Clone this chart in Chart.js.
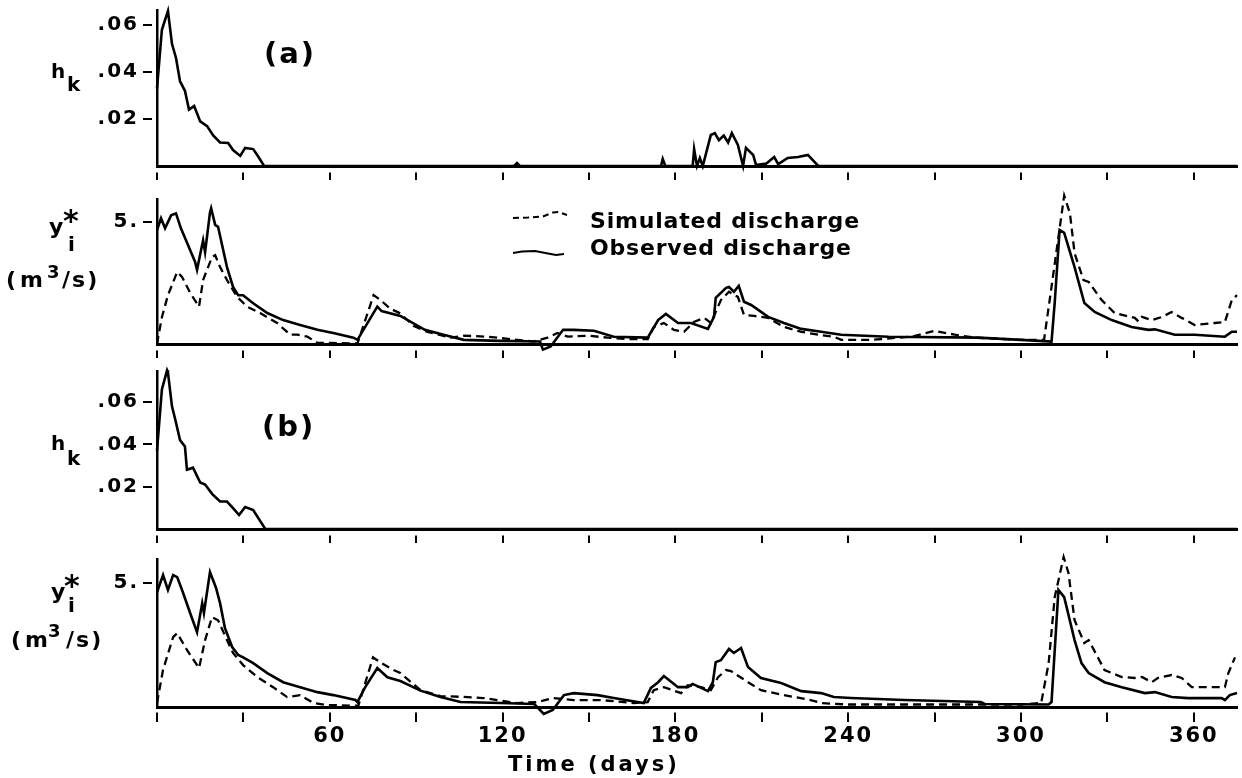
<!DOCTYPE html>
<html>
<head>
<meta charset="utf-8">
<title>h_k and discharge</title>
<script src="https://cdn.jsdelivr.net/npm/chart.js@4.4.1/dist/chart.umd.min.js"></script>
<style>
  body { margin: 0; background: #fff; }
  #wrap { position: relative; width: 1242px; height: 778px; }
  canvas { position: absolute; left: 0; top: 0; }
</style>
</head>
<body>
<div id="wrap">
  <canvas id="pa1" width="1242" height="778"></canvas>
  <canvas id="pa2" width="1242" height="778"></canvas>
  <canvas id="pb1" width="1242" height="778"></canvas>
  <canvas id="pb2" width="1242" height="778"></canvas>
</div>
<script>
// x axis (days)
const dayTicks = [0, 30, 60, 90, 120, 150, 180, 210, 240, 270, 300, 330, 360];
const dayLabels = [60, 120, 180, 240, 300, 360];
const hTicks = [0.02, 0.04, 0.06];
const qTicks = [5];

// (a) h_k
const haDays = [0, 1.7, 3.8, 5.2, 6.6, 8, 9.7, 11.1, 12.9, 15, 17.4, 19.5, 21.9, 24.7, 26.4, 28.9, 30.6, 33.4, 34.8, 37.2,
  124, 125, 126, 175, 175.6, 176.5, 186, 186.5, 187.5, 188.5, 189.5, 192.3, 193.7, 195.1, 196.8, 198.3, 199.6, 201.7, 203.5, 204.5,
  207, 208, 211.5, 214.3, 215.7, 219, 222.6, 226, 229.6, 375];
const haVals = [0.033, 0.058, 0.066, 0.052, 0.046, 0.036, 0.032, 0.024, 0.0255, 0.019, 0.017, 0.013, 0.010, 0.0098, 0.0068, 0.0043, 0.0077, 0.0072, 0.0047, 0,
  0, 0.0012, 0, 0, 0.003, 0, 0, 0.0072, 0, 0.0034, 0, 0.0132, 0.014, 0.011, 0.013, 0.010, 0.014, 0.009, 0, 0.0077,
  0.0047, 0.0004, 0.001, 0.0038, 0.0008, 0.0034, 0.0038, 0.0047, 0, 0];

// (a) discharge
const yaSimDays = [0, 1.7, 3.8, 7, 8.7, 11.5, 14.6, 16, 19.1, 20.2, 21.9, 24.3, 27.8, 31.3, 35.8, 41.7, 46.3, 48.7, 52.2, 55.7,
  69.6, 75.2, 77.6, 81, 84.5, 89, 93.9, 102, 106.5, 114.8, 125, 130.8, 135.6, 139, 142.6, 149.6, 156.5, 163.5, 170.4, 172.5,
  176, 179.5, 183, 186.4, 190, 192.3, 195.8, 198.6, 201.7, 203.8, 207.3, 212.2, 217.7, 223.7, 229.6, 235, 237.6, 248, 262, 270,
  277, 284, 300, 308, 310.6, 313, 315, 317, 318.6, 321.7, 323.5, 328, 332.5, 339.5, 340.8, 342, 345.4, 349, 352.3, 355.8,
  360.3, 367.3, 370.8, 373.2, 375];
const yaSimVals = [0, 1.1, 2.0, 2.95, 2.75, 2.1, 1.53, 2.62, 3.56, 3.64, 3.15, 2.62, 1.93, 1.53, 1.27, 0.86, 0.38, 0.38, 0.3, 0.05,
  0.02, 2.0, 1.8, 1.45, 1.25, 0.75, 0.5, 0.26, 0.34, 0.3, 0.17, 0.1, 0.26, 0.45, 0.3, 0.34, 0.26, 0.2, 0.2, 0.7,
  0.86, 0.58, 0.5, 0.9, 1.07, 0.86, 1.8, 2.14, 1.93, 1.19, 1.15, 1.07, 0.7, 0.5, 0.38, 0.3, 0.17, 0.17, 0.3, 0.54,
  0.38, 0.26, 0.17, 0.17, 2.34, 4.38, 6.08, 5.35, 3.72, 2.62, 2.54, 1.8, 1.27, 1.07, 0.92, 1.11, 0.98, 1.11, 1.31, 1.07,
  0.78, 0.86, 0.9, 1.8, 2.0];
const yaObsDays = [0, 1.4, 2.8, 4.9, 6.6, 8.3, 10.8, 13.2, 13.9, 16, 16.7, 18.4, 18.8, 20.2, 21.2, 23, 24.3, 26.4, 28.2, 29.9,
  33.4, 38.3, 43.8, 49.7, 55.7, 61.2, 68.2, 69.6, 76.5, 78, 84.5, 93, 99.5, 106.5, 119, 133, 134, 136.7, 141, 144.7,
  151.7, 158.6, 170.4, 174, 176.7, 180.9, 185.4, 191.3, 193.4, 194, 197.6, 198.6, 200.3, 202, 203.8, 206.3, 212.2, 217.7, 223.7, 230.6,
  237.6, 254, 285, 300, 310.6, 311.7, 313.4, 315, 318.6, 322, 325.6, 331.5, 338.4, 344.3, 346.5, 353.4, 360.3, 370.8, 373.2, 375];
const yaObsVals = [4.67, 5.15, 4.74, 5.27, 5.35, 4.74, 4.05, 3.37, 3.04, 4.25, 3.76, 5.39, 5.56, 4.88, 4.8, 3.84, 3.15, 2.34, 2.0, 2.0,
  1.67, 1.27, 0.98, 0.78, 0.58, 0.45, 0.26, 0.17, 1.53, 1.35, 1.15, 0.58, 0.38, 0.17, 0.13, 0.1, -0.23, -0.1, 0.58, 0.58,
  0.54, 0.3, 0.26, 0.98, 1.23, 0.86, 0.86, 0.62, 1.11, 1.89, 2.3, 2.34, 2.14, 2.38, 1.73, 1.6, 1.11, 0.86, 0.62, 0.5,
  0.38, 0.3, 0.26, 0.17, 0.1, 1.68, 4.67, 4.55, 3.15, 1.68, 1.31, 0.98, 0.7, 0.58, 0.6, 0.38, 0.38, 0.3, 0.5, 0.5];

// (b) h_k
const hbDays = [0, 1.7, 3.5, 3.8, 5.2, 6.3, 8, 9.7, 10.4, 12.5, 15, 16.7, 19.2, 21.9, 24.3, 26.4, 28.5, 30.6, 33.4, 37.6, 375];
const hbVals = [0.037, 0.066, 0.075, 0.074, 0.058, 0.052, 0.042, 0.039, 0.028, 0.029, 0.022, 0.021, 0.0165, 0.013, 0.013, 0.0099, 0.0066, 0.0104, 0.009, 0, 0];

// (b) discharge
const ybSimDays = [0, 2.1, 5.6, 7, 10.4, 14.6, 16.7, 19.1, 21.2, 24.3, 26.4, 29.9, 34.8, 40.3, 45.2, 49.7, 54.3, 59.1, 69.9, 75,
  77.6, 82, 84.5, 91.5, 98.4, 107.8, 113.4, 125, 132, 137.7, 144.7, 154, 165.6, 170.4, 172.5, 176, 182, 184.3, 189, 192.3,
  194.8, 197.6, 199.3, 205.2, 209.7, 217.7, 227, 230.6, 240, 300, 307, 309.6, 311.7, 314.8, 316.5, 318.6, 322, 323.5, 329, 335,
  339.5, 342, 345.4, 347.5, 352.3, 355.8, 359.3, 364, 370.8, 372, 374.3];
const ybSimVals = [0.16, 1.5, 2.82, 2.98, 2.3, 1.57, 2.7, 3.63, 3.5, 2.7, 2.18, 1.69, 1.21, 0.8, 0.4, 0.48, 0.16, 0.08, 0.05, 2.0,
  1.8, 1.5, 1.37, 0.68, 0.44, 0.4, 0.36, 0.16, 0.2, 0.36, 0.28, 0.28, 0.16, 0.2, 0.68, 0.8, 0.56, 0.88, 0.8, 0.68,
  1.2, 1.49, 1.45, 1.0, 0.68, 0.48, 0.28, 0.16, 0.1, 0.1, 0.16, 1.77, 4.43, 6.05, 5.4, 3.5, 2.58, 2.7, 1.49, 1.21,
  1.17, 1.21, 1.0, 1.17, 1.29, 1.17, 0.8, 0.8, 0.8, 1.37, 2.0];
const ybObsDays = [0, 2.1, 3.8, 5.6, 7, 8.7, 11.5, 13.9, 15.7, 16.3, 18.4, 20.5, 21.9, 23.6, 26.1, 28.2, 29.9, 33.4, 38.3, 43.8,
  49.7, 55.7, 61.2, 68.9, 69.6, 72.3, 76.5, 80, 84.5, 91.5, 98.4, 105.4, 119.3, 131, 134.3, 137.4, 141.3, 144.7, 153, 158.6,
  169, 171.5, 174, 176, 180.9, 184.3, 186, 191.3, 193, 194, 195.8, 198.6, 200.3, 202.8, 205.2, 209.7, 216.7, 223.7, 230.6, 235,
  241, 259.5, 286, 287.4, 309.6, 310.6, 313, 315, 318.6, 321, 323.5, 329, 335, 343, 346.5, 352.3, 358, 369.7, 370.8, 372.5, 375];
const ybObsVals = [4.63, 5.32, 4.72, 5.32, 5.24, 4.72, 3.79, 3.02, 4.19, 3.79, 5.44, 4.8, 4.19, 3.18, 2.42, 2.1, 2.0, 1.77, 1.37, 1.0,
  0.8, 0.6, 0.48, 0.28, 0.2, 0.8, 1.57, 1.2, 1.05, 0.66, 0.4, 0.2, 0.16, 0.12, -0.28, -0.12, 0.48, 0.56, 0.48, 0.36,
  0.16, 0.77, 1.0, 1.25, 0.8, 0.8, 0.93, 0.64, 1.0, 1.81, 1.89, 2.34, 2.18, 2.38, 1.61, 1.17, 0.97, 0.64, 0.56, 0.4,
  0.36, 0.28, 0.2, 0.12, 0.1, 0.2, 4.72, 4.43, 2.7, 1.77, 1.37, 1.0, 0.8, 0.56, 0.6, 0.4, 0.36, 0.36, 0.28, 0.48, 0.56];

const H = 778;
const FONT = "'DejaVu Sans', sans-serif";

function pts(days, vals) {
  return days.map((d, i) => ({ x: d, y: vals[i] }));
}

function txt(ctx, s, x, y, size, spacing) {
  ctx.font = 'bold ' + size + 'px ' + FONT;
  ctx.letterSpacing = (spacing || 0) + 'px';
  ctx.fillStyle = '#000';
  ctx.textAlign = 'left';
  ctx.textBaseline = 'alphabetic';
  ctx.fillText(s, x, y);
}

function path(ctx, p, dash) {
  ctx.save();
  ctx.strokeStyle = '#000';
  ctx.lineWidth = 2;
  ctx.setLineDash(dash);
  ctx.beginPath();
  p.forEach((q, i) => i ? ctx.lineTo(q[0], q[1]) : ctx.moveTo(q[0], q[1]));
  ctx.stroke();
  ctx.restore();
}

const hFmt = v => '.' + String(Math.round(v * 100)).padStart(2, '0');
const qFmt = v => v + '.';

function simSet(days, vals) {
  return { data: pts(days, vals), borderColor: '#000', borderWidth: 2.3, borderDash: [8, 5], clip: false };
}
function obsSet(days, vals) {
  return { data: pts(days, vals), borderColor: '#000', borderWidth: 2.6, clip: false };
}

function makePanel(id, top, bottom, yMax, yTicks, yFmt, datasets, last, extra) {
  const xh = last ? H - bottom : 30;
  return new Chart(document.getElementById(id), {
    type: 'line',
    data: { datasets: datasets },
    options: {
      responsive: false,
      animation: false,
      events: [],
      layout: { padding: { top: top, bottom: H - bottom - xh, left: 0, right: 5 } },
      elements: { point: { radius: 0 }, line: { tension: 0 } },
      plugins: { legend: { display: false }, tooltip: { enabled: false } },
      scales: {
        x: {
          type: 'linear', min: 0, max: 375,
          afterBuildTicks: s => { s.ticks = dayTicks.map(v => ({ value: v })); },
          afterFit: s => { s.height = xh; s.paddingLeft = 0; s.paddingRight = 0; },
          border: { color: '#000', width: 3 },
          grid: {
            drawOnChartArea: false, color: '#000', lineWidth: 2,
            tickLength: last ? 15 : 14,
            tickBorderDash: last ? [0, 3.5, 10, 60] : [0, 4.5, 8, 60]
          },
          ticks: {
            autoSkip: false, maxRotation: 0, padding: 2, color: '#000',
            font: { family: FONT, weight: 'bold', size: 21 },
            callback: v => (last && dayLabels.includes(v)) ? String(v) : ''
          }
        },
        y: {
          min: 0, max: yMax,
          afterBuildTicks: s => { s.ticks = yTicks.map(v => ({ value: v })); },
          afterFit: s => { s.width = 157; s.paddingTop = 0; s.paddingBottom = 0; },
          border: { color: '#000', width: 2.5 },
          grid: { drawOnChartArea: false, color: '#000', lineWidth: 2, tickLength: 14, tickBorderDash: [9, 60] },
          ticks: { padding: 4, color: '#000', font: { family: FONT, weight: 'bold', size: 20 }, callback: yFmt }
        }
      }
    },
    plugins: [{
      id: 'extra',
      beforeDraw: c => { c.ctx.letterSpacing = '2px'; },
      afterDraw: c => extra(c.ctx)
    }]
  });
}

// panel (a) h_k
makePanel('pa1', 10, 166, 0.0664, hTicks, hFmt,
  [obsSet(haDays, haVals)], false, ctx => {
    txt(ctx, 'h', 51, 78, 20);
    txt(ctx, 'k', 67, 91, 20);
    txt(ctx, '(a)', 264, 63, 29, 2);
  });

// panel (a) discharge
makePanel('pa2', 199, 344, 5.94, qTicks, qFmt,
  [simSet(yaSimDays, yaSimVals), obsSet(yaObsDays, yaObsVals)], false, ctx => {
    txt(ctx, 'y', 49, 234, 22);
    txt(ctx, '*', 63, 231, 30);
    txt(ctx, 'i', 68, 251, 20);
    txt(ctx, '(m', 6, 287, 22, 4);
    txt(ctx, '3', 47, 278, 18);
    txt(ctx, '/s)', 62, 287, 22, 2);
    // legend
    path(ctx, [[513, 218], [528, 217.5], [543, 216.5], [553, 212.5], [558, 212], [567, 215]], [6, 4]);
    path(ctx, [[513, 253], [522, 251.5], [535, 251], [548, 253.5], [556, 255], [564, 254]], []);
    txt(ctx, 'Simulated discharge', 590, 228, 22, 0.8);
    txt(ctx, 'Observed discharge', 590, 255, 22, 0.8);
  });

// panel (b) h_k
makePanel('pb1', 371, 529, 0.0747, hTicks, hFmt,
  [obsSet(hbDays, hbVals)], false, ctx => {
    txt(ctx, 'h', 51, 450, 20);
    txt(ctx, 'k', 67, 465, 20);
    txt(ctx, '(b)', 262, 436, 29, 2);
  });

// panel (b) discharge
makePanel('pb2', 559, 707, 5.97, qTicks, qFmt,
  [simSet(ybSimDays, ybSimVals), obsSet(ybObsDays, ybObsVals)], true, ctx => {
    txt(ctx, 'y', 51, 599, 22);
    txt(ctx, '*', 64, 596, 30);
    txt(ctx, 'i', 68, 612, 20);
    txt(ctx, '(m', 11, 647, 22, 4);
    txt(ctx, '3', 48, 637, 18);
    txt(ctx, '/s)', 66, 647, 22, 2);
    txt(ctx, 'Time (days)', 508, 771, 21, 3);
  });
</script>
</body>
</html>
